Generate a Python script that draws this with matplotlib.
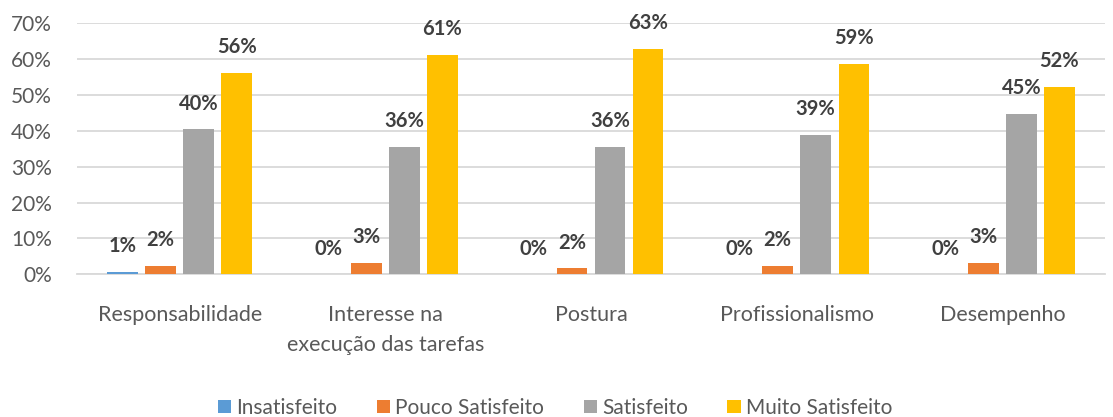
import numpy as np
import matplotlib.pyplot as plt

# dados (fração)
categorias = ['Responsabilidade', 'Interesse na\nexecução das tarefas', 'Postura',
              'Profissionalismo', 'Desempenho']
series = ['Insatisfeito', 'Pouco Satisfeito', 'Satisfeito', 'Muito Satisfeito']
insatisfeito = [0.007, 0.0, 0.0, 0.0, 0.0]
pouco_satisfeito = [0.024, 0.032, 0.017, 0.024, 0.033]
satisfeito = [0.404, 0.355, 0.355, 0.388, 0.446]
muito_satisfeito = [0.562, 0.611, 0.628, 0.586, 0.522]
cores = ['#5b9bd5', '#ed7d31', '#a5a5a5', '#ffc000']

valores = [insatisfeito, pouco_satisfeito, satisfeito, muito_satisfeito]

plt.rcParams['font.family'] = ['Lato', 'DejaVu Sans']

fig, ax = plt.subplots(figsize=(11.13, 4.17), dpi=100)
fig.subplots_adjust(left=0.069, right=0.993, top=0.945, bottom=0.342)

x = np.arange(len(categorias))
larg = 0.148
passo = 0.185
for i, (nome, v) in enumerate(zip(series, valores)):
    pos = x + (i - 1.5) * passo
    ax.bar(pos, v, width=larg, color=cores[i], label=nome, zorder=3)
    for xi, vi in zip(pos, v):
        ax.annotate('%d%%' % round(vi * 100), (xi, vi), xytext=(0, 18.5),
                    textcoords='offset points', ha='center', va='center',
                    fontsize=14.5, fontweight='bold', color='#404040')

ax.set_xlim(-0.5, len(categorias) - 0.5)
ax.set_ylim(0, 0.7)
ax.set_yticks(np.arange(0, 0.71, 0.1))
ax.set_yticklabels(['%d%%' % round(t * 100) for t in np.arange(0, 0.71, 0.1)])
ax.set_xticks(x)
ax.set_xticklabels(categorias, linespacing=1.65)
ax.tick_params(axis='both', length=0, labelsize=15.5, labelcolor='#595959')
ax.tick_params(axis='x', pad=22)
ax.tick_params(axis='y', labelsize=15, pad=18)
ax.grid(axis='y', color='#d9d9d9', linewidth=1.3, zorder=0)
for s in ['top', 'right', 'left']:
    ax.spines[s].set_visible(False)
ax.spines['bottom'].set_color('#d9d9d9')
ax.spines['bottom'].set_linewidth(1.3)

ax.legend(loc='center', bbox_to_anchor=(0.465, -0.53), ncol=4, frameon=False,
          fontsize=15, labelcolor='#595959', handlelength=0.63, handleheight=0.6,
          handletextpad=0.25, columnspacing=1.9, borderpad=0)

fig.savefig('out.png')
